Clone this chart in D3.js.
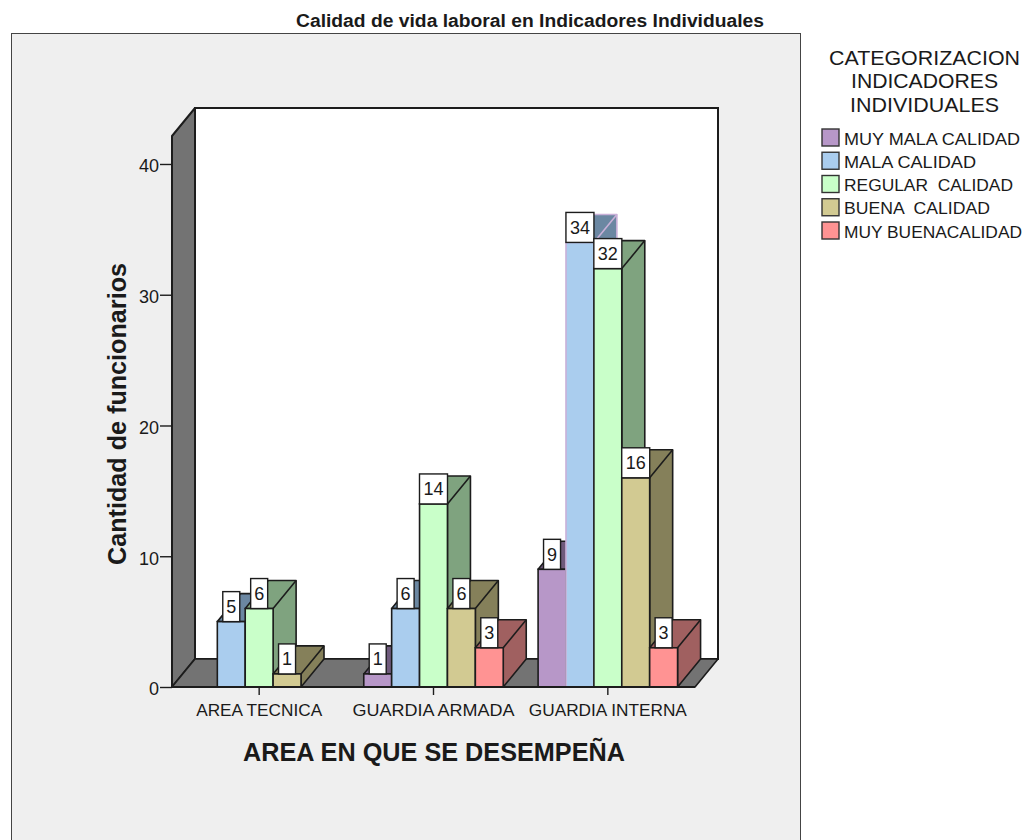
<!DOCTYPE html>
<html>
<head>
<meta charset="utf-8">
<script src="https://cdn.jsdelivr.net/npm/d3@7"></script>
<style>
html,body{margin:0;padding:0;background:#fff;overflow:hidden}
svg{display:block}
text{font-family:"Liberation Sans",Arial,sans-serif;fill:#1a1a1a;white-space:pre}
</style>
</head>
<body>
<svg id="chart" width="1027" height="840"></svg>
<script>
// Respondents per work area and quality-of-life rating
const categories = ["AREA TECNICA", "GUARDIA ARMADA", "GUARDIA INTERNA"];
const seriesNames = ["MUY MALA CALIDAD", "MALA CALIDAD", "REGULAR  CALIDAD", "BUENA  CALIDAD", "MUY BUENACALIDAD"];
const muyMala = [null, 1, 9];
const mala = [5, 6, 34];
const regular = [6, 14, 32];
const buena = [1, 6, 16];
const muyBuena = [null, 3, 3];
const seriesValues = [muyMala, mala, regular, buena, muyBuena];
const yTicks = [0, 10, 20, 30, 40];
const frontColors = ["#b797c8", "#aacdee", "#c9ffc9", "#d2ca92", "#ff9393"];
const sideColors = ["#6f5a7c", "#6b87a2", "#7fa37f", "#85805a", "#a06060"];

const svg = d3.select("#chart");
const depthX = 23, depthY = 28;
const ink = "#1c1c1c";

// Each string is fitted to a set run length
const stretch = (sel, width) => sel.attr("textLength", width).attr("lengthAdjust", "spacingAndGlyphs");

// Plot scales: the front plane of the 3D box
const x0 = d3.scaleBand().domain(categories).range([172, 695]).paddingInner(0.2).paddingOuter(0.1);
const x1 = d3.scaleBand().domain(seriesNames).range([0, x0.bandwidth()]);
const y = d3.scaleLinear().domain([0, 42.14]).range([687, 136]);

const poly = pts => pts.map(p => p.join(",")).join(" ");

// Outer panel
svg.append("rect").attr("x", 11.5).attr("y", 33.5).attr("width", 789).attr("height", 820)
  .attr("fill", "#efefef").attr("stroke", "#444").attr("stroke-width", 1);

svg.append("text").attr("x", 530).attr("y", 27).attr("text-anchor", "middle")
  .attr("font-size", 18).attr("font-weight", "bold").attr("fill", "#000")
  .text("Calidad de vida laboral en Indicadores Individuales")
  .call(stretch, 468);

// Box walls and floor
const [left, right] = x0.range();
const y0 = y(0), yTop = y(y.domain()[1]);
svg.append("polygon")
  .attr("points", poly([[left + depthX, yTop - depthY], [right + depthX, yTop - depthY], [right + depthX, y0 - depthY], [left + depthX, y0 - depthY]]))
  .attr("fill", "#fff").attr("stroke", ink).attr("stroke-width", 2);
svg.append("polygon")
  .attr("points", poly([[left, yTop], [left + depthX, yTop - depthY], [left + depthX, y0 - depthY], [left, y0]]))
  .attr("fill", "#737373").attr("stroke", ink).attr("stroke-width", 2).attr("stroke-linejoin", "round");
svg.append("polygon")
  .attr("points", poly([[left, y0], [left + depthX, y0 - depthY], [right + depthX, y0 - depthY], [right, y0]]))
  .attr("fill", "#737373").attr("stroke", ink).attr("stroke-width", 1.6).attr("stroke-linejoin", "round");

// Bars, painted left to right so each front covers the previous side face
const marks = svg.append("g");
const labels = [];
categories.forEach((cat, c) => {
  seriesNames.forEach((name, s) => {
    const v = seriesValues[s][c];
    if (v === null) return;
    const xa = x0(cat) + x1(name), xb = xa + x1.bandwidth(), yv = y(v);
    const g = marks.append("g");
    // The tallest bar of the last group carries a pale lilac outline
    const edge = v === 34 ? "#c9b0d8" : ink;
    g.append("polygon")
      .attr("points", poly([[xa, yv], [xa + depthX, yv - depthY], [xb + depthX, yv - depthY], [xb + depthX, y0 - depthY], [xb, y0], [xb, yv]]))
      .attr("fill", sideColors[s]).attr("stroke", edge).attr("stroke-width", 1.6).attr("stroke-linejoin", "round");
    g.append("line").attr("x1", xb).attr("y1", yv).attr("x2", xb + depthX).attr("y2", yv - depthY)
      .attr("stroke", edge).attr("stroke-width", 1.6);
    g.append("rect").attr("x", xa).attr("y", yv).attr("width", xb - xa).attr("height", y0 - yv)
      .attr("fill", frontColors[s]).attr("stroke", edge).attr("stroke-width", 1.6);
    labels.push({ v, cx: (xa + xb) / 2, yv });
  });
});

// Value labels sit on top of everything
const labelGroup = svg.append("g");
labels.forEach(d => {
  const w = String(d.v).length > 1 ? 28 : 17;
  labelGroup.append("rect").attr("x", d.cx - w / 2).attr("y", d.yv - 30).attr("width", w).attr("height", 30)
    .attr("fill", "#fff").attr("stroke", ink).attr("stroke-width", 1.4);
  labelGroup.append("text").attr("x", d.cx).attr("y", d.yv - 8.5).attr("text-anchor", "middle")
    .attr("font-size", 18).text(d.v);
});

// Axes
const yAxis = svg.append("g").attr("transform", `translate(${left},0)`)
  .call(d3.axisLeft(y).tickValues(yTicks).tickSize(12).tickPadding(1).tickFormat(d3.format("d")));
yAxis.select(".domain").remove();
yAxis.selectAll("line").attr("stroke", ink).attr("stroke-width", 1.4);
yAxis.selectAll("text").attr("font-size", 18).attr("font-family", null).attr("fill", "#1a1a1a")
  .attr("dy", "0.44em");

const categoryWidths = [126, 162, 158];
const xAxis = svg.append("g").attr("transform", `translate(0,${y0})`)
  .call(d3.axisBottom(x0).tickSize(8).tickPadding(9));
xAxis.select(".domain").remove();
xAxis.selectAll("line").attr("stroke", ink).attr("stroke-width", 1.4);
xAxis.selectAll("text").attr("font-size", 17).attr("font-family", null).attr("fill", "#1a1a1a")
  .each(function (d, i) { d3.select(this).call(stretch, categoryWidths[i]); });

svg.append("line").attr("x1", left).attr("x2", right).attr("y1", y0).attr("y2", y0)
  .attr("stroke", ink).attr("stroke-width", 1.8);

// Axis titles
svg.append("text").attr("x", 434).attr("y", 761).attr("text-anchor", "middle")
  .attr("font-size", 25).attr("font-weight", "bold").attr("fill", "#000")
  .text("AREA EN QUE SE DESEMPEÑA").call(stretch, 382);
svg.append("text").attr("transform", "translate(126,414) rotate(-90)").attr("text-anchor", "middle")
  .attr("font-size", 25).attr("font-weight", "bold").attr("fill", "#000")
  .text("Cantidad de funcionarios").call(stretch, 302);

// Legend
const legendTitle = ["CATEGORIZACION", "INDICADORES", "INDIVIDUALES"];
const legendTitleWidths = [191, 147, 149];
const legendY = [65, 88, 112];
svg.append("g").selectAll("text").data(legendTitle).join("text")
  .attr("x", 924.5).attr("y", (d, i) => legendY[i]).attr("text-anchor", "middle")
  .attr("font-size", 21).text(d => d)
  .each(function (d, i) { d3.select(this).call(stretch, legendTitleWidths[i]); });
const legendWidths = [176, 132, 169, 146, 178];
const legendStep = d3.scalePoint().domain(seriesNames).range([138, 231]);
const legend = svg.append("g").selectAll("g").data(seriesNames).join("g")
  .attr("transform", d => `translate(0,${legendStep(d)})`);
legend.append("rect").attr("x", 822).attr("y", -9).attr("width", 17).attr("height", 17)
  .attr("fill", (d, i) => frontColors[i]).attr("stroke", "#333").attr("stroke-width", 1.4);
legend.append("text").attr("x", 844).attr("y", 6.5).attr("font-size", 17).text(d => d)
  .each(function (d, i) { d3.select(this).call(stretch, legendWidths[i]); });
</script>
</body>
</html>
